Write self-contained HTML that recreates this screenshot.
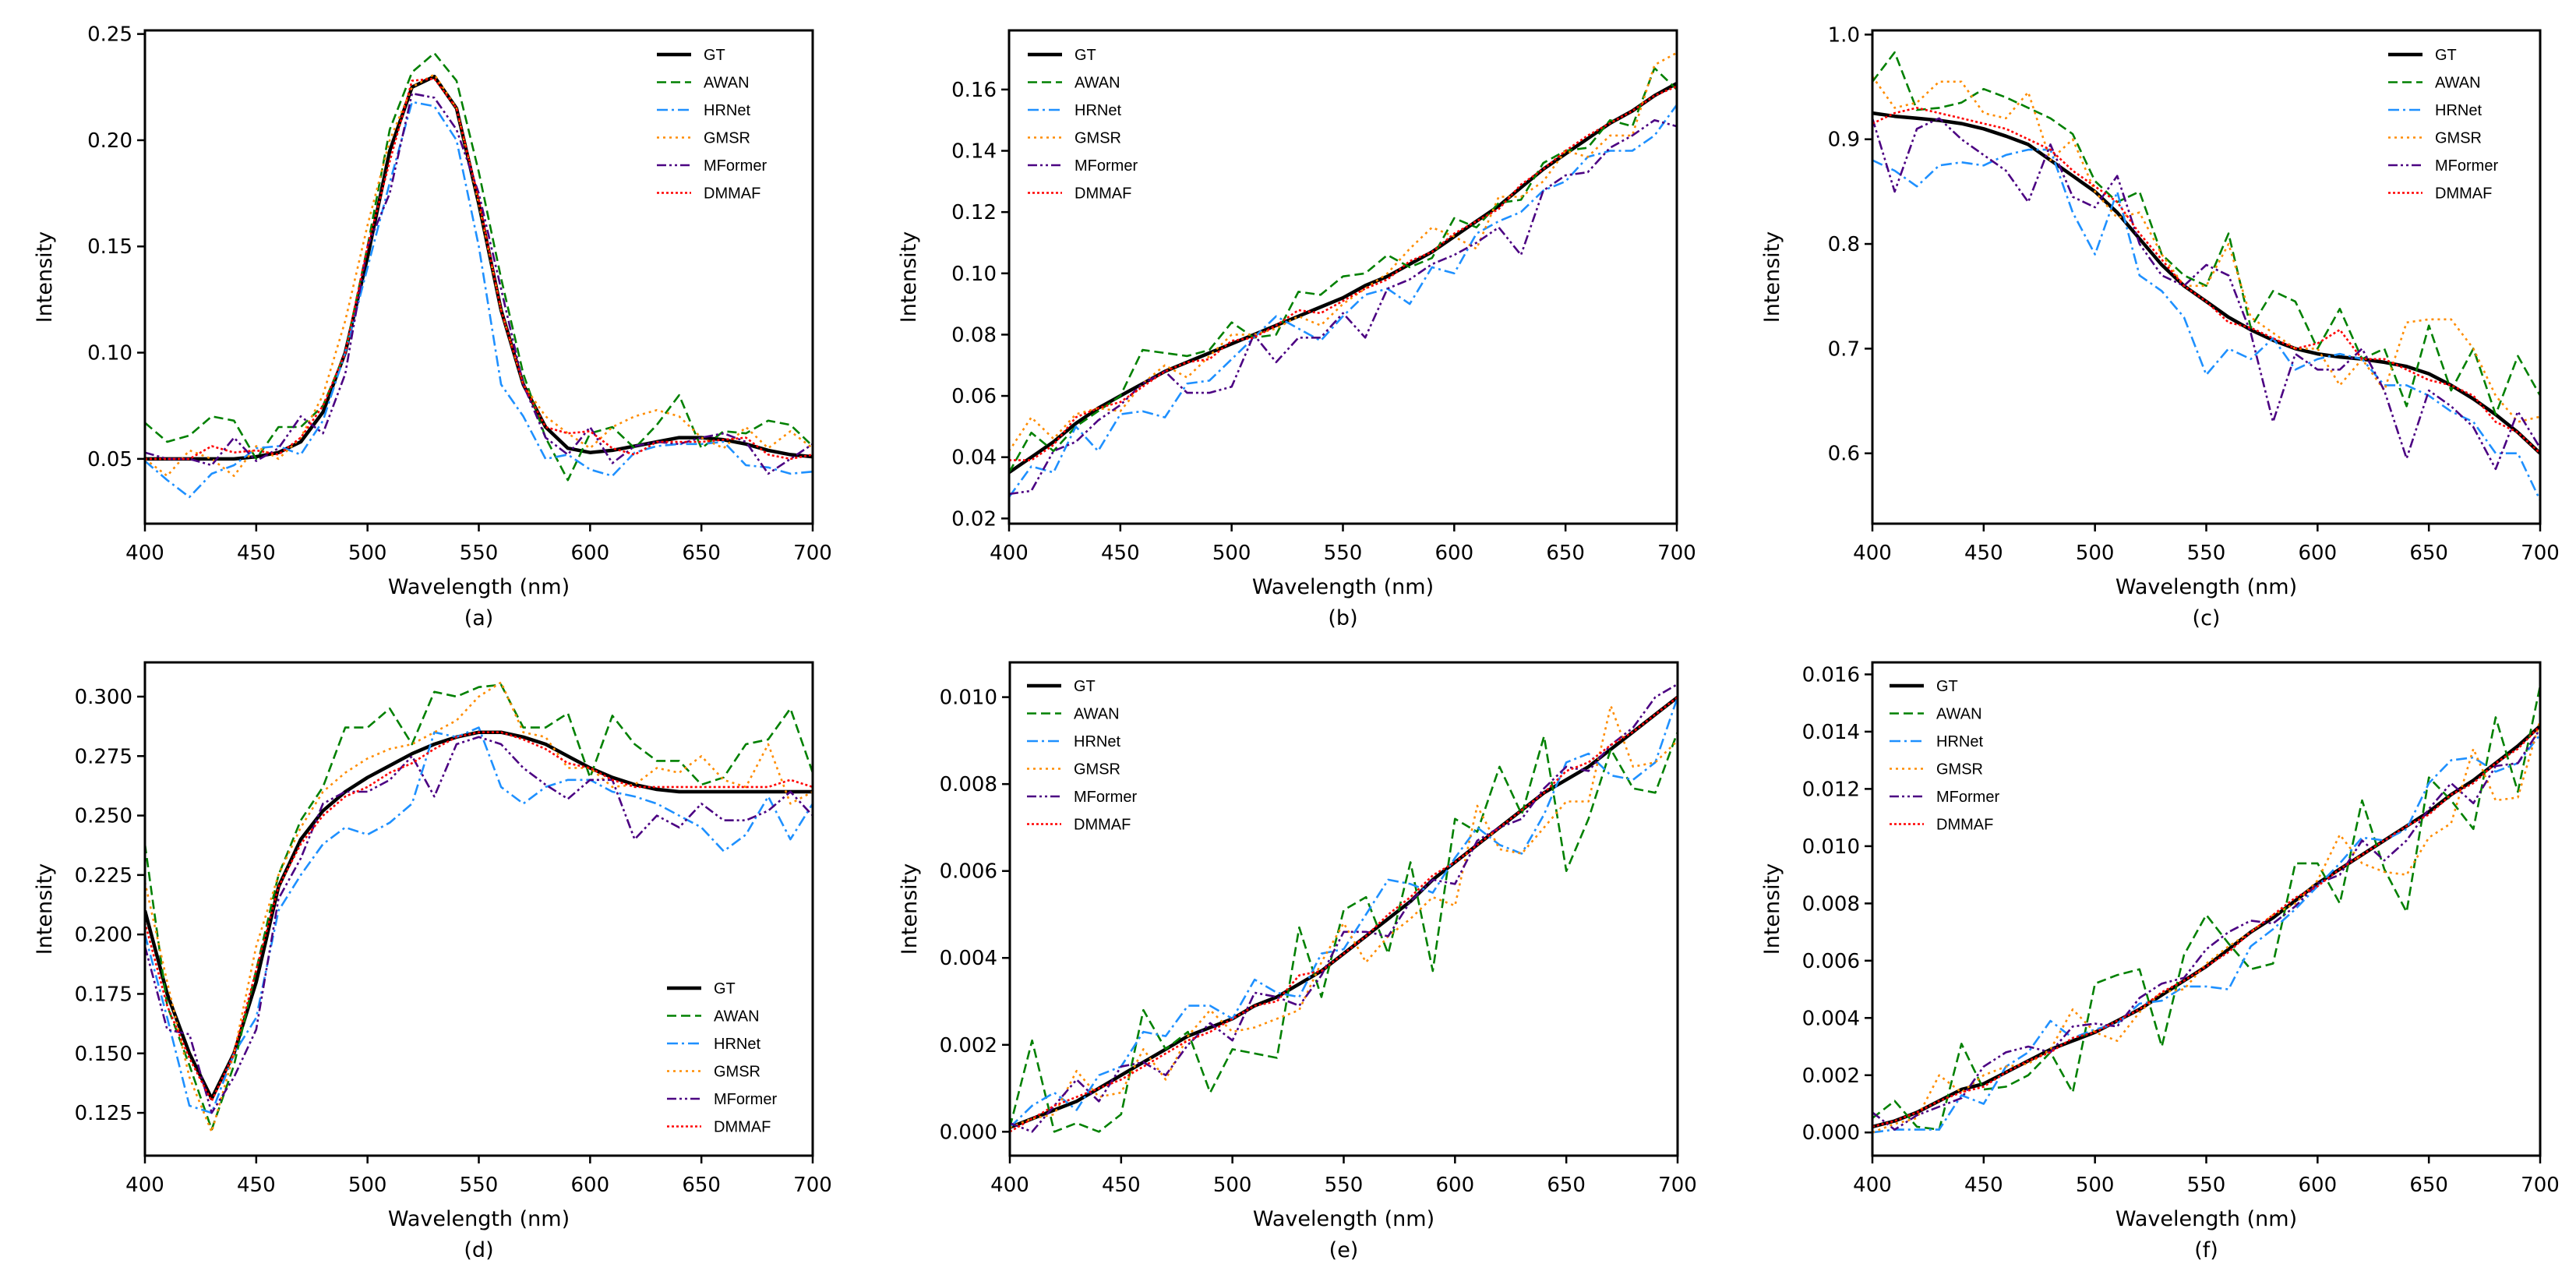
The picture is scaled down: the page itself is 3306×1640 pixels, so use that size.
<!DOCTYPE html>
<html><head><meta charset="utf-8">
<style>
html,body{margin:0;padding:0;background:#fff;}
svg{display:block;font-family:"DejaVu Sans","Liberation Sans",sans-serif;}
</style></head>
<body>
<svg id="fig" width="3306" height="1640" viewBox="0 0 3306 1640" xmlns="http://www.w3.org/2000/svg"></svg>
<script>
const wavelengths = [400,410,420,430,440,450,460,470,480,490,500,510,520,530,540,550,560,570,580,590,600,610,620,630,640,650,660,670,680,690,700];
const xTicks = [400,450,500,550,600,650,700];
const seriesNames = ["GT","AWAN","HRNet","GMSR","MFormer","DMMAF"];

const aGT=[.050,.050,.050,.050,.050,.051,.053,.058,.072,.100,.145,.195,.225,.230,.215,.170,.120,.085,.065,.055,.053,.054,.056,.058,.060,.060,.059,.057,.054,.052,.051];
const aAWAN=[.067,.058,.061,.070,.068,.050,.065,.065,.075,.100,.150,.205,.232,.241,.228,.185,.135,.090,.060,.040,.062,.065,.055,.066,.080,.055,.063,.062,.068,.066,.056];
const aHRNet=[.049,.040,.032,.043,.047,.055,.056,.052,.068,.100,.140,.180,.218,.216,.200,.150,.085,.070,.050,.052,.045,.042,.053,.056,.057,.057,.058,.047,.046,.043,.044];
const aGMSR=[.050,.042,.054,.050,.042,.056,.050,.060,.080,.115,.160,.200,.225,.231,.215,.170,.120,.085,.070,.062,.055,.065,.070,.073,.070,.060,.055,.065,.055,.063,.055];
const aMFormer=[.053,.050,.050,.047,.060,.049,.055,.070,.062,.090,.150,.175,.222,.220,.205,.175,.130,.085,.060,.052,.065,.048,.056,.058,.057,.060,.062,.058,.043,.050,.057];
const aDMMAF=[.050,.050,.050,.056,.053,.054,.052,.060,.075,.100,.150,.190,.228,.229,.215,.172,.120,.085,.065,.062,.063,.055,.052,.058,.058,.058,.059,.060,.052,.050,.052];

const bGT=[.035,.040,.045,.051,.056,.060,.064,.068,.071,.074,.077,.080,.083,.086,.089,.092,.096,.099,.103,.107,.112,.117,.122,.128,.134,.139,.144,.149,.153,.158,.162];
const bAWAN=[.035,.048,.042,.050,.055,.060,.075,.074,.073,.075,.084,.079,.080,.094,.093,.099,.100,.106,.102,.105,.118,.115,.123,.124,.136,.140,.141,.150,.148,.167,.160];
const bHRNet=[.027,.037,.035,.050,.042,.054,.055,.053,.064,.065,.072,.079,.086,.082,.078,.086,.093,.095,.090,.102,.100,.113,.117,.120,.127,.130,.138,.140,.140,.145,.155];
const bGMSR=[.042,.053,.046,.054,.056,.055,.064,.070,.066,.073,.080,.080,.082,.086,.083,.090,.095,.100,.108,.115,.112,.108,.125,.125,.130,.140,.138,.145,.145,.168,.172];
const bMFormer=[.028,.029,.042,.045,.052,.057,.064,.068,.061,.061,.063,.080,.071,.079,.079,.087,.079,.095,.098,.103,.106,.110,.115,.106,.127,.132,.133,.141,.145,.150,.148];
const bDMMAF=[.039,.039,.044,.053,.056,.058,.063,.068,.071,.072,.078,.079,.083,.088,.087,.091,.095,.098,.104,.107,.113,.117,.121,.129,.134,.140,.145,.149,.153,.158,.161];

const cGT=[.925,.922,.920,.918,.915,.910,.903,.895,.880,.865,.850,.830,.805,.780,.760,.745,.730,.718,.708,.700,.695,.692,.690,.687,.683,.676,.665,.652,.637,.620,.600];
const cAWAN=[.955,.983,.928,.930,.935,.948,.940,.930,.920,.905,.860,.840,.850,.790,.770,.760,.810,.720,.755,.745,.700,.738,.690,.700,.645,.722,.660,.700,.637,.693,.655];
const cHRNet=[.880,.870,.855,.875,.878,.875,.885,.890,.890,.830,.790,.850,.770,.755,.730,.675,.700,.690,.710,.680,.690,.695,.690,.665,.665,.655,.640,.630,.600,.600,.555];
const cGMSR=[.960,.930,.935,.955,.955,.925,.920,.945,.880,.900,.850,.825,.830,.790,.760,.760,.800,.730,.715,.700,.700,.665,.690,.660,.725,.728,.728,.700,.655,.630,.635];
const cMFormer=[.920,.850,.910,.920,.900,.885,.870,.840,.895,.845,.835,.865,.800,.770,.760,.780,.770,.715,.630,.695,.680,.680,.700,.660,.595,.660,.645,.625,.585,.640,.605];
const cDMMAF=[.915,.925,.930,.925,.920,.915,.910,.900,.890,.870,.855,.840,.810,.785,.760,.745,.725,.720,.710,.700,.705,.718,.690,.690,.680,.670,.665,.655,.630,.620,.600];

const dGT=[.210,.175,.150,.131,.150,.180,.220,.240,.252,.260,.266,.271,.276,.280,.283,.285,.285,.283,.280,.275,.270,.266,.263,.261,.260,.260,.260,.260,.260,.260,.260];
const dAWAN=[.238,.170,.145,.118,.145,.185,.225,.248,.262,.287,.287,.295,.280,.302,.300,.304,.305,.287,.287,.293,.266,.292,.280,.273,.273,.263,.266,.280,.282,.295,.268];
const dHRNet=[.200,.165,.128,.125,.150,.165,.210,.225,.238,.245,.242,.247,.255,.285,.283,.287,.262,.255,.262,.265,.265,.260,.258,.255,.250,.245,.235,.242,.258,.240,.255];
const dGMSR=[.222,.180,.140,.117,.150,.195,.225,.245,.260,.268,.274,.278,.280,.285,.290,.300,.306,.285,.283,.270,.270,.262,.263,.270,.268,.275,.265,.262,.280,.255,.260];
const dMFormer=[.195,.160,.158,.125,.140,.160,.215,.232,.255,.260,.260,.265,.275,.258,.280,.283,.280,.270,.263,.257,.265,.265,.240,.250,.245,.255,.248,.248,.252,.260,.250];
const dDMMAF=[.205,.170,.148,.130,.150,.185,.220,.238,.250,.258,.262,.268,.272,.278,.283,.285,.285,.282,.278,.272,.270,.265,.262,.262,.262,.262,.262,.262,.262,.265,.262];

const eGT=[0.1,0.3,0.5,0.7,1.0,1.3,1.6,1.9,2.2,2.4,2.6,2.9,3.1,3.4,3.7,4.1,4.5,4.9,5.3,5.8,6.2,6.6,7.0,7.4,7.8,8.1,8.4,8.8,9.2,9.6,10.0];
const eAWAN=[0.1,2.1,0.0,0.2,0.0,0.4,2.8,1.9,2.3,0.9,1.9,1.8,1.7,4.7,3.1,5.1,5.4,4.1,6.2,3.7,7.2,6.9,8.4,7.3,9.1,6.0,7.2,8.8,7.9,7.8,9.2];
const eHRNet=[0.1,0.6,0.9,0.5,1.3,1.5,2.3,2.2,2.9,2.9,2.6,3.5,3.2,3.1,4.1,4.2,5.0,5.8,5.7,5.5,6.3,7.0,6.6,6.4,7.3,8.5,8.7,8.2,8.1,8.5,10.0];
const eGMSR=[0.1,0.3,0.4,1.4,0.8,0.9,1.9,1.2,2.2,2.8,2.3,2.4,2.6,2.8,3.9,4.8,3.9,4.5,4.9,5.4,5.2,7.5,6.5,6.4,7.0,7.6,7.6,9.8,8.4,8.5,9.0];
const eMFormer=[0.2,0.0,0.6,1.2,0.7,1.5,1.6,1.3,2.0,2.5,2.1,3.2,3.1,2.9,3.6,4.6,4.6,4.5,5.3,5.8,5.7,6.7,7.0,7.2,7.9,8.4,8.3,8.9,9.3,10.0,10.3];
const eDMMAF=[0.0,0.3,0.6,0.8,1.0,1.2,1.5,1.8,2.1,2.3,2.6,2.9,3.0,3.6,3.7,4.1,4.5,5.0,5.4,5.9,6.2,6.6,7.0,7.4,7.8,8.3,8.5,8.9,9.2,9.6,10.0];

const fGT=[0.2,0.4,0.7,1.1,1.5,1.7,2.1,2.5,2.9,3.2,3.5,3.9,4.3,4.8,5.3,5.8,6.4,7.0,7.5,8.1,8.7,9.2,9.7,10.2,10.7,11.2,11.8,12.3,12.9,13.5,14.2];
const fAWAN=[0.5,1.1,0.2,0.1,3.1,1.5,1.6,2.0,2.8,1.4,5.2,5.5,5.7,3.0,6.2,7.6,6.6,5.7,5.9,9.4,9.4,8.0,11.6,9.2,7.7,12.4,11.6,10.6,14.5,11.9,15.6];
const fHRNet=[0.0,0.1,0.1,0.1,1.3,1.0,2.3,2.8,3.9,3.3,3.6,3.8,4.5,4.6,5.1,5.1,5.0,6.5,7.1,7.8,8.6,9.4,10.3,10.2,10.6,12.2,13.0,13.1,12.6,12.9,13.9];
const fGMSR=[0.0,0.3,0.5,2.0,1.4,2.0,2.3,2.4,2.9,4.3,3.5,3.2,4.2,4.9,5.0,5.9,6.5,7.0,7.6,8.0,8.8,10.4,9.4,9.1,9.0,10.3,10.8,13.4,11.6,11.7,14.4];
const fMFormer=[0.7,0.1,0.6,0.9,1.2,2.3,2.8,3.0,2.8,3.7,3.8,3.7,4.7,5.2,5.4,6.4,7.0,7.4,7.3,7.9,8.7,9.0,10.2,9.5,10.2,11.3,12.2,11.5,12.8,12.9,14.1];
const fDMMAF=[0.2,0.4,0.7,1.1,1.4,1.6,2.1,2.5,2.8,3.3,3.5,3.9,4.3,4.9,5.3,5.8,6.3,7.0,7.6,8.2,8.6,9.2,9.7,10.2,10.7,11.1,11.8,12.2,12.9,13.4,14.2];

const aTicks=[0.05,0.10,0.15,0.20,0.25];
const bTicks=[0.02,0.04,0.06,0.08,0.10,0.12,0.14,0.16];
const cTicks=[0.6,0.7,0.8,0.9,1.0];
const dTicks=[0.125,0.150,0.175,0.200,0.225,0.250,0.275,0.300];
const eTicks=[0.000,0.002,0.004,0.006,0.008,0.010];
const fTicks=[0.000,0.002,0.004,0.006,0.008,0.010,0.012,0.014,0.016];

const NS="http://www.w3.org/2000/svg";
const svg=document.getElementById('fig');
function mk(tag,attrs,parent){const e=document.createElementNS(NS,tag);for(const k in attrs)e.setAttribute(k,attrs[k]);(parent||svg).appendChild(e);return e;}

const styles=[
 {c:"#000000",w:4.5,d:""},
 {c:"#008000",w:2.6,d:"12,6"},
 {c:"#1e90ff",w:2.6,d:"14,5,3,5"},
 {c:"#ff8c00",w:2.6,d:"3,5"},
 {c:"#4b0082",w:2.6,d:"12,4,3,4,3,4"},
 {c:"#ff0000",w:2.6,d:"3,3"}
];

const W=857,H=633;
const panels=[
 {id:"a",x:186,y:39,ylim:[0.0195,0.2517],ticks:aTicks,dec:2,scale:1,series:[aGT,aAWAN,aHRNet,aGMSR,aMFormer,aDMMAF],leg:{x:657,y:31}},
 {id:"b",x:1295,y:39,ylim:[0.0183,0.1793],ticks:bTicks,dec:2,scale:1,series:[bGT,bAWAN,bHRNet,bGMSR,bMFormer,bDMMAF],leg:{x:24,y:31}},
 {id:"c",x:2403,y:39,ylim:[0.5328,1.004],ticks:cTicks,dec:1,scale:1,series:[cGT,cAWAN,cHRNet,cGMSR,cMFormer,cDMMAF],leg:{x:662,y:31}},
 {id:"d",x:186,y:850,ylim:[0.107,0.3144],ticks:dTicks,dec:3,scale:1,series:[dGT,dAWAN,dHRNet,dGMSR,dMFormer,dDMMAF],leg:{x:670,y:418}},
 {id:"e",x:1296,y:850,ylim:[-0.00055,0.0108],ticks:eTicks,dec:3,scale:0.001,series:[eGT,eAWAN,eHRNet,eGMSR,eMFormer,eDMMAF],leg:{x:22,y:30}},
 {id:"f",x:2403,y:850,ylim:[-0.00081,0.01642],ticks:fTicks,dec:3,scale:0.001,series:[fGT,fAWAN,fHRNet,fGMSR,fMFormer,fDMMAF],leg:{x:22,y:30}}
];

panels.forEach(p=>{
  const g=mk('g',{});
  
  
  const xs=v=>p.x+(v-400)/300*W;
  const ys=v=>p.y+H-(v-p.ylim[0])/(p.ylim[1]-p.ylim[0])*H;
  const clipId='clip-'+p.id;
  const cp=mk('clipPath',{id:clipId},g);
  mk('rect',{x:p.x,y:p.y,width:W,height:H},cp);
  const sg=mk('g',{'clip-path':'url(#'+clipId+')'},g);
  p.series.forEach((arr,si)=>{
    const pts=arr.map((v,i)=>xs(wavelengths[i]).toFixed(1)+','+ys(v*p.scale).toFixed(1)).join(' ');
    const st=styles[si];
    const pl=mk('polyline',{points:pts,fill:'none',stroke:st.c,'stroke-width':st.w,'stroke-dasharray':st.d,'stroke-linejoin':'round'},sg);
    
    
  });
  const fr=mk('rect',{x:p.x,y:p.y,width:W,height:H,fill:'none',stroke:'#000','stroke-width':3},g);
  
  
  xTicks.forEach(t=>{
    const x=xs(t);
    mk('line',{x1:x,y1:p.y+H,x2:x,y2:p.y+H+10,stroke:'#000','stroke-width':2.5},g);
    const tx=mk('text',{x:x,y:p.y+H+46,'font-size':26,'text-anchor':'middle',fill:'#000'},g);
    tx.textContent=t;
    
    
  });
  p.ticks.forEach(t=>{
    const y=ys(t);
    mk('line',{x1:p.x-10,y1:y,x2:p.x,y2:y,stroke:'#000','stroke-width':2.5},g);
    const tx=mk('text',{x:p.x-16,y:y+9,'font-size':26,'text-anchor':'end',fill:'#000'},g);
    tx.textContent=t.toFixed(p.dec);
    
    
  });
  const xl=mk('text',{x:p.x+W/2,y:p.y+H+90,'font-size':27,'text-anchor':'middle',fill:'#000'},g);
  xl.textContent='Wavelength (nm)';
  
  
  const cap=mk('text',{x:p.x+W/2,y:p.y+H+130,'font-size':27,'text-anchor':'middle',fill:'#000'},g);
  cap.textContent='('+p.id+')';
  
  
  const yl=mk('text',{x:0,y:0,'font-size':27,'text-anchor':'middle',fill:'#000',transform:'translate('+(p.x-120)+','+(p.y+H/2)+') rotate(-90)'},g);
  yl.textContent='Intensity';
  
  
  const lg=mk('g',{},g);
  
  
  seriesNames.forEach((n,si)=>{
    const ly=p.y+p.leg.y+si*35.5;
    const lx=p.x+p.leg.x;
    const st=styles[si];
    mk('line',{x1:lx,y1:ly,x2:lx+44,y2:ly,stroke:st.c,'stroke-width':st.w,'stroke-dasharray':st.d},lg);
    const t=mk('text',{x:lx+60,y:ly+7,'font-size':20,'font-family':'Liberation Sans, sans-serif',fill:'#000'},lg);
    t.textContent=n;
    
    
  });
});
</script>
</body></html>
